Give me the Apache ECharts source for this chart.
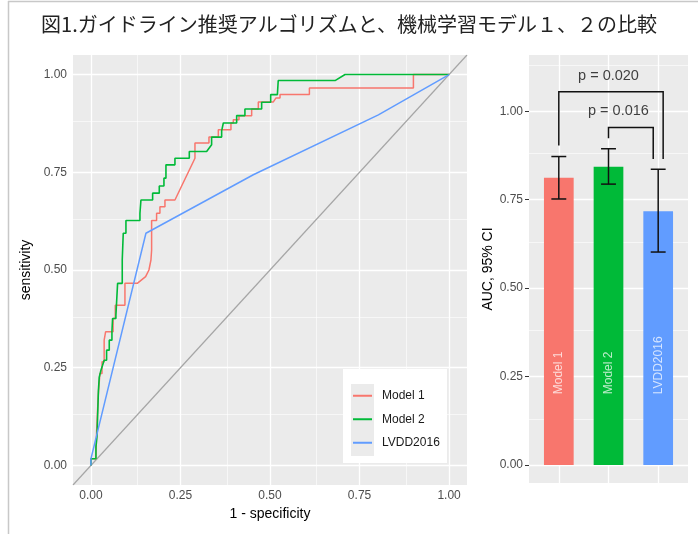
<!DOCTYPE html>
<html>
<head>
<meta charset="utf-8">
<script src="https://cdn.jsdelivr.net/npm/echarts@6/dist/echarts.min.js"></script>
<style>
html,body{margin:0;padding:0;background:#fff;}
#chart{width:698px;height:534px;}
</style>
</head>
<body>
<div id="chart"></div>
<script>
// ---------- data ----------
const titleText = '図1.ガイドライン推奨アルゴリズムと、機械学習モデル１、２の比較';
const seriesNames = ['Model 1', 'Model 2', 'LVDD2016'];
const seriesColors = ['#F8766D', '#00BA38', '#619CFF'];

// ROC curves: [1 - specificity, sensitivity]
const model1Roc = [[0,0],[0,0.017],[0.014,0.017],[0.016,0.09],[0.0205,0.09],[0.0205,0.18],[0.0251,0.18],[0.0251,0.235],[0.031,0.235],[0.031,0.265],[0.037,0.265],[0.037,0.3205],[0.041,0.3205],[0.041,0.342],[0.062,0.342],[0.062,0.376],[0.068,0.376],[0.068,0.41],[0.095,0.41],[0.095,0.4658],[0.1294,0.4658],[0.1527,0.483],[0.162,0.5],[0.1676,0.5256],[0.1695,0.551],[0.1695,0.6265],[0.1834,0.6265],[0.1834,0.645],[0.1927,0.645],[0.1927,0.662],[0.2067,0.662],[0.2067,0.679],[0.2346,0.679],[0.2905,0.786],[0.2905,0.8248],[0.3296,0.8248],[0.3296,0.84],[0.3557,0.84],[0.3557,0.859],[0.391,0.859],[0.391,0.876],[0.3976,0.876],[0.3976,0.8846],[0.4134,0.8846],[0.4134,0.8949],[0.4488,0.8949],[0.4488,0.912],[0.4674,0.912],[0.4674,0.93],[0.5093,0.93],[0.5168,0.9402],[0.528,0.9402],[0.528,0.9487],[0.61,0.9487],[0.61,0.9658],[0.9004,0.9658],[0.9004,1],[1,1]];
const model2Roc = [[0,0],[0,0.017],[0.014,0.017],[0.014,0.047],[0.017,0.047],[0.017,0.075],[0.021,0.075],[0.021,0.192],[0.0233,0.192],[0.0233,0.226],[0.028,0.226],[0.028,0.2436],[0.0326,0.2436],[0.0326,0.2564],[0.037,0.2564],[0.037,0.269],[0.0438,0.269],[0.0438,0.295],[0.0512,0.295],[0.0512,0.3205],[0.0587,0.3205],[0.0587,0.342],[0.0605,0.342],[0.0605,0.376],[0.0698,0.376],[0.0698,0.3846],[0.0745,0.3846],[0.0745,0.4658],[0.0875,0.4658],[0.0875,0.5256],[0.0903,0.5256],[0.0903,0.594],[0.0978,0.594],[0.0978,0.6265],[0.1369,0.6265],[0.1369,0.645],[0.1397,0.645],[0.1397,0.679],[0.1723,0.679],[0.1723,0.6966],[0.1909,0.6966],[0.1909,0.715],[0.2039,0.715],[0.2039,0.735],[0.2095,0.735],[0.2095,0.769],[0.2346,0.769],[0.2346,0.786],[0.2747,0.786],[0.2747,0.803],[0.3231,0.803],[0.337,0.8205],[0.337,0.84],[0.365,0.84],[0.365,0.856],[0.3697,0.856],[0.3697,0.876],[0.4069,0.876],[0.4069,0.895],[0.43,0.895],[0.43,0.912],[0.4767,0.912],[0.4767,0.929],[0.5019,0.929],[0.5019,0.9487],[0.5206,0.9487],[0.5206,0.953],[0.523,0.953],[0.523,0.9846],[0.6816,0.9846],[0.7095,1],[1,1]];
const lvddRoc = [[0,0],[0,0.017],[0.1536,0.594],[0.4534,0.7436],[0.8026,0.897],[1,1]];

const rocTicks = [0, 0.25, 0.5, 0.75, 1];
const rocMinor = [0.125, 0.375, 0.625, 0.875];

// AUC bars
const barPositions = [1, 2, 3];
const aucValues = [0.812, 0.843, 0.717];
const ciLow = [0.752, 0.794, 0.602];
const ciHigh = [0.872, 0.894, 0.836];
const aucTicks = [0, 0.25, 0.5, 0.75, 1];
const aucMinor = [0.125, 0.375, 0.625, 0.875, 1.125];

// significance brackets
const pLabels = ['p = 0.020', 'p = 0.016'];
const bracketLeftX = [1, 2];
const bracketRightX = [3.1, 2.9];
const bracketTopY = [1.055, 0.954];
const bracketLeftEndY = [0.903, 0.924];
const bracketRightEndY = [0.865, 0.865];
const pLabelX = [2.0, 2.2];
const pLabelY = [1.10, 1.0];

// ---------- chart ----------
const FONT = '"Liberation Sans", Arial, sans-serif';
const chart = echarts.init(document.getElementById('chart'), null, {renderer: 'canvas'});

const rocMin = -0.05, rocMax = 1.05;
const aucMinY = -0.0509, aucMaxY = 1.159;
const fmt2 = v => v.toFixed(2);

function gridLines(major, minor, axisKey) {
  return major.map(v => ({[axisKey]: v, lineStyle: {width: 1.3}}))
    .concat(minor.map(v => ({[axisKey]: v, lineStyle: {width: 0.6}})));
}

const option = {
  animation: false,
  backgroundColor: '#ffffff',
  title: {
    text: titleText, left: 'center', top: 9,
    textStyle: {fontFamily: '"Noto Sans CJK JP"', fontSize: 20, fontWeight: 'normal', color: '#222'}
  },
  legend: {
    data: seriesNames, orient: 'vertical', left: 353, top: 388, padding: 0, z: 10,
    itemWidth: 19, itemHeight: 2, itemGap: 8, icon: 'rect', selectedMode: false,
    textStyle: {fontFamily: FONT, fontSize: 12, color: '#1a1a1a', lineHeight: 15.5, padding: [0, 0, 0, 5]}
  },
  graphic: [
    {type: 'line', shape: {x1: 8, y1: 1.5, x2: 698, y2: 1.5}, style: {stroke: '#c8c8c8', lineWidth: 1.5}, silent: true},
    {type: 'line', shape: {x1: 8.5, y1: 1, x2: 8.5, y2: 534}, style: {stroke: '#c8c8c8', lineWidth: 1.5}, silent: true},
    {type: 'rect', shape: {x: 343, y: 369, width: 104, height: 94}, style: {fill: '#ffffff'}, z: 3, silent: true},
    {type: 'rect', shape: {x: 351, y: 384, width: 23, height: 72}, style: {fill: '#ebebeb'}, z: 3, silent: true}
  ],
  grid: [
    {left: 73, top: 55, width: 394, height: 430, show: true, backgroundColor: '#EBEBEB', borderWidth: 0, outerBoundsMode: 'none'},
    {left: 529, top: 55, width: 159, height: 428, show: true, backgroundColor: '#EBEBEB', borderWidth: 0, outerBoundsMode: 'none'}
  ],
  xAxis: [
    {
      gridIndex: 0, type: 'value', min: rocMin, max: rocMax,
      name: '1 - specificity', nameLocation: 'middle', nameGap: 19,
      nameTextStyle: {fontFamily: FONT, fontSize: 14, color: '#000'},
      axisLine: {show: false},
      axisTick: {show: true, length: 4, lineStyle: {color: '#333', width: 1}, customValues: rocTicks},
      axisLabel: {customValues: rocTicks, formatter: fmt2, margin: 5, fontFamily: FONT, fontSize: 12, color: '#4d4d4d'},
      splitLine: {show: false}
    },
    {
      gridIndex: 1, type: 'value', min: 0.4, max: 3.6,
      axisLine: {show: false}, axisTick: {show: false}, axisLabel: {show: false}, splitLine: {show: false}
    }
  ],
  yAxis: [
    {
      gridIndex: 0, type: 'value', min: rocMin, max: rocMax,
      name: 'sensitivity', nameLocation: 'middle', nameGap: 34, nameRotate: 90,
      nameTextStyle: {fontFamily: FONT, fontSize: 14, color: '#000'},
      axisLine: {show: false},
      axisTick: {show: true, length: 4, lineStyle: {color: '#333', width: 1}, customValues: rocTicks},
      axisLabel: {customValues: rocTicks, formatter: fmt2, margin: 6, fontFamily: FONT, fontSize: 12, color: '#4d4d4d'},
      splitLine: {show: false}
    },
    {
      gridIndex: 1, type: 'value', min: aucMinY, max: aucMaxY,
      name: 'AUC, 95% CI', nameLocation: 'middle', nameGap: 34, nameRotate: 90,
      nameTextStyle: {fontFamily: FONT, fontSize: 14, color: '#000'},
      axisLine: {show: false},
      axisTick: {show: true, length: 4, lineStyle: {color: '#333', width: 1}, customValues: aucTicks},
      axisLabel: {customValues: aucTicks, formatter: fmt2, margin: 6, fontFamily: FONT, fontSize: 12, color: '#4d4d4d'},
      splitLine: {show: false}
    }
  ],
  series: [
    // grid lines, left panel
    {
      type: 'line', name: 'gridL', xAxisIndex: 0, yAxisIndex: 0, data: [], z: 1, silent: true,
      markLine: {
        z: 1, silent: true, symbol: ['none', 'none'], label: {show: false}, animation: false,
        lineStyle: {color: '#ffffff', type: 'solid'},
        data: gridLines(rocTicks, rocMinor, 'xAxis').concat(gridLines(rocTicks, rocMinor, 'yAxis'))
      }
    },
    // grid lines, right panel
    {
      type: 'line', name: 'gridR', xAxisIndex: 1, yAxisIndex: 1, data: [], z: 1, silent: true,
      markLine: {
        z: 1, silent: true, symbol: ['none', 'none'], label: {show: false}, animation: false,
        lineStyle: {color: '#ffffff', type: 'solid'},
        data: gridLines(barPositions, [], 'xAxis').concat(gridLines(aucTicks, aucMinor, 'yAxis'))
      }
    },
    // chance diagonal
    {
      type: 'line', name: 'diag', xAxisIndex: 0, yAxisIndex: 0, silent: true, z: 2,
      data: [[rocMin, rocMin], [rocMax, rocMax]], showSymbol: false, symbol: 'none',
      lineStyle: {color: '#a6a6a6', width: 1.2}
    },
    {
      type: 'line', name: seriesNames[0], xAxisIndex: 0, yAxisIndex: 0, data: model1Roc,
      showSymbol: false, symbol: 'none', color: seriesColors[0], lineStyle: {width: 1.5, color: seriesColors[0]}, z: 3
    },
    {
      type: 'line', name: seriesNames[1], xAxisIndex: 0, yAxisIndex: 0, data: model2Roc,
      showSymbol: false, symbol: 'none', color: seriesColors[1], lineStyle: {width: 1.6, color: seriesColors[1]}, z: 3
    },
    {
      type: 'line', name: seriesNames[2], xAxisIndex: 0, yAxisIndex: 0, data: lvddRoc,
      showSymbol: false, symbol: 'none', color: seriesColors[2], lineStyle: {width: 1.5, color: seriesColors[2]}, z: 3
    },
    // AUC bars
    {
      type: 'bar', name: 'auc', xAxisIndex: 1, yAxisIndex: 1, barWidth: 29.7, z: 2,
      data: barPositions.map((x, i) => ({value: [x, aucValues[i]], itemStyle: {color: seriesColors[i]}}))
    },
    // in-bar labels
    {
      type: 'scatter', name: 'barLabels', xAxisIndex: 1, yAxisIndex: 1, symbolSize: 0, z: 4, silent: true,
      data: barPositions.map((x, i) => [x, 0.2, seriesNames[i]]),
      label: {
        show: true, position: 'inside', rotate: 90, align: 'left', verticalAlign: 'middle',
        formatter: p => p.value[2], fontFamily: FONT, fontSize: 12, color: 'rgba(255,255,255,0.92)'
      }
    },
    // error bars
    {
      type: 'custom', name: 'ci', xAxisIndex: 1, yAxisIndex: 1, z: 5, silent: true,
      data: barPositions.map((x, i) => [x, ciLow[i], ciHigh[i]]),
      renderItem: function (params, api) {
        const x = api.value(0), lo = api.value(1), hi = api.value(2);
        const pLo = api.coord([x, lo]), pHi = api.coord([x, hi]);
        const xl = api.coord([x - 0.15, lo])[0], xr = api.coord([x + 0.15, lo])[0];
        const st = {stroke: '#111', lineWidth: 1.5};
        return {type: 'group', children: [
          {type: 'line', shape: {x1: pLo[0], y1: pLo[1], x2: pHi[0], y2: pHi[1]}, style: st},
          {type: 'line', shape: {x1: xl, y1: pLo[1], x2: xr, y2: pLo[1]}, style: st},
          {type: 'line', shape: {x1: xl, y1: pHi[1], x2: xr, y2: pHi[1]}, style: st}
        ]};
      }
    },
    // brackets
    {
      type: 'custom', name: 'brackets', xAxisIndex: 1, yAxisIndex: 1, z: 5, silent: true,
      data: pLabels.map((t, i) => [bracketLeftX[i], bracketRightX[i], bracketTopY[i], bracketLeftEndY[i], bracketRightEndY[i]]),
      renderItem: function (params, api) {
        const x1 = api.value(0), x2 = api.value(1), yt = api.value(2), yl = api.value(3), yr = api.value(4);
        return {type: 'polyline', shape: {points: [api.coord([x1, yl]), api.coord([x1, yt]), api.coord([x2, yt]), api.coord([x2, yr])]},
          style: {stroke: '#111', lineWidth: 1.5, fill: null}};
      }
    },
    // p-value labels
    {
      type: 'scatter', name: 'pvals', xAxisIndex: 1, yAxisIndex: 1, symbolSize: 0, z: 5, silent: true,
      data: pLabels.map((t, i) => [pLabelX[i], pLabelY[i], t]),
      label: {show: true, position: 'inside', formatter: p => p.value[2], fontFamily: FONT, fontSize: 14.5, color: '#111'}
    }
  ]
};
chart.setOption(option);
</script>
</body>
</html>
